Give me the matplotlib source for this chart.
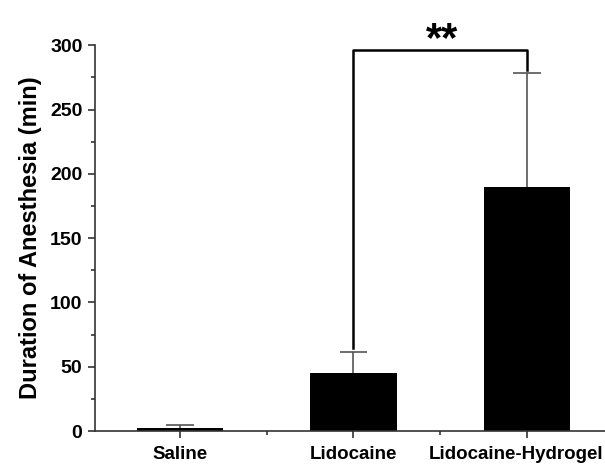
import matplotlib.pyplot as plt
import numpy as np
from matplotlib.transforms import ScaledTranslation

plt.rcParams['font.family'] = ['Liberation Sans', 'DejaVu Sans']

# anesthesia duration per group (min), mean and upper SD
groups = ["Saline", "Lidocaine", "Lidocaine-Hydrogel"]
means = [2, 45, 190]
errors = [2.5, 16.5, 88]

# significance bracket between Lidocaine and Lidocaine-Hydrogel
bracket_y = 296
sig_label = "**"

x = np.arange(len(groups))
tops = np.array(means) + np.array(errors)

fig = plt.figure(figsize=(6.05, 4.66), dpi=100)
ax = fig.add_axes([0.157, 0.075, 0.843, 0.828])

ax.bar(x, means, width=0.5, color='black', zorder=2)
# upper-only error bars with a cap at the top end
ax.vlines(x, means, tops, color='#555555', lw=1.2, zorder=3)
ax.hlines(tops, x - 0.08, x + 0.08, color='#555555', lw=1.2, zorder=3)

# bracket legs start just above each error bar
left_top = tops[1] + 3
right_top = tops[2] + 3
ax.plot([x[1], x[1], x[2], x[2]], [left_top, bracket_y, bracket_y, right_top],
        color='black', lw=1.8, clip_on=False, zorder=4)
ax.text((x[1] + x[2]) / 2 + 0.01, bracket_y + 8, sig_label, ha='center', va='center',
        fontsize=30, fontweight='bold', clip_on=False)

ax.set_xlim(-0.49, 2.45)
ax.set_ylim(0, 300)
ax.set_yticks(np.arange(0, 301, 50))
ax.set_yticks(np.arange(0, 301, 25), minor=True)
ax.set_xticks(x)
ax.set_xticks([0.5, 1.5], minor=True)
ax.set_ylabel("Duration of Anesthesia (min)", fontsize=17, fontweight='bold', labelpad=6)

for side in ['top', 'right']:
    ax.spines[side].set_visible(False)
for side in ['left', 'bottom']:
    ax.spines[side].set_linewidth(1.2)
    ax.spines[side].set_color('#333333')
ax.tick_params(axis='both', which='major', length=5, width=1.2, color='#333333', pad=4)
ax.tick_params(axis='both', which='minor', length=3, width=1.2, color='#333333')
ax.tick_params(axis='x', which='major', pad=6)

ax.set_xticklabels(groups, fontsize=13.5, fontweight='bold')
for lbl in ax.get_yticklabels():
    lbl.set_fontsize(14)
    lbl.set_fontweight('bold')
# long last label nudged left so it stays inside the figure
last = ax.get_xticklabels()[-1]
last.set_transform(last.get_transform() + ScaledTranslation(-0.11, 0, fig.dpi_scale_trans))

fig.savefig('out.png', dpi=100)
